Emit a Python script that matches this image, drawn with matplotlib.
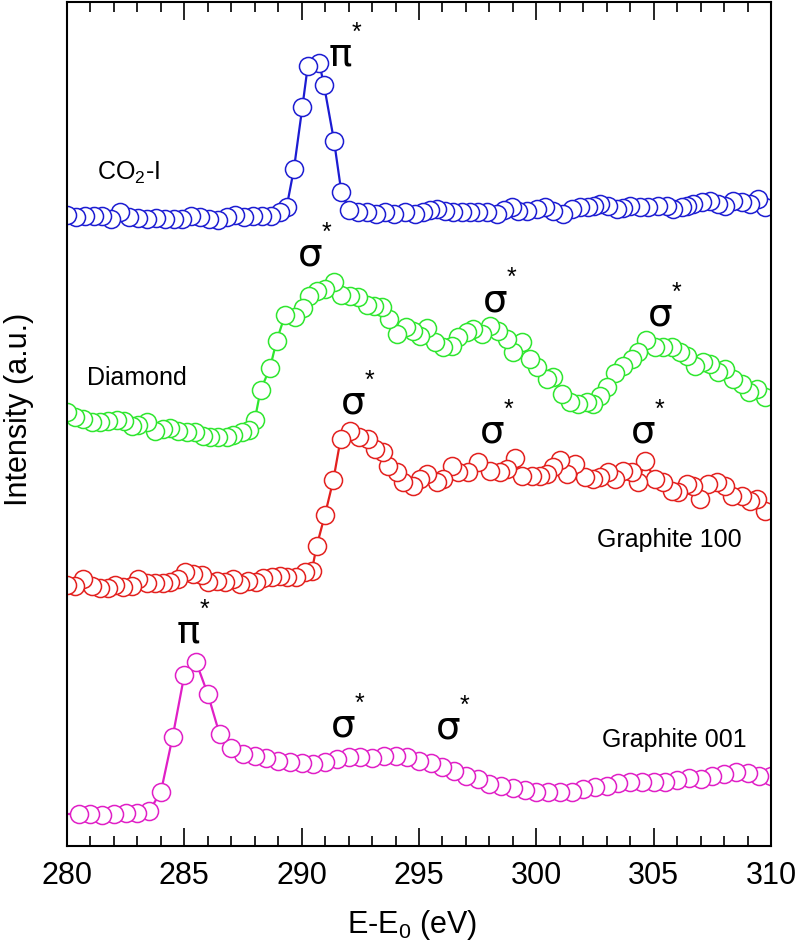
import matplotlib
matplotlib.use("Agg")
from matplotlib import pyplot as plt
from matplotlib.ticker import MultipleLocator

plt.rcParams['font.family'] = ['Liberation Sans', 'DejaVu Sans']
plt.rcParams['mathtext.fontset'] = 'custom'
plt.rcParams['mathtext.rm'] = 'Liberation Sans'
plt.rcParams['mathtext.it'] = 'Liberation Sans:italic'

# spectra, stacked with their offsets already included (intensity in a.u.)
co2_x = [280.00, 280.38, 280.76, 281.13, 281.51, 281.89, 282.27, 282.65, 283.02, 283.40,
         283.78, 284.16, 284.54, 284.91, 285.29, 285.67, 286.05, 286.43, 286.80, 287.18,
         287.56, 287.94, 288.32, 288.69, 289.07, 289.36, 289.67, 290.03, 290.26, 290.75,
         290.95, 291.38, 291.69, 292.03, 292.40, 292.78, 293.16, 293.54, 293.92, 294.40,
         294.83, 295.18, 295.45, 295.75, 296.11, 296.46, 296.82, 297.17, 297.53, 297.88,
         298.31, 298.63, 298.95, 299.23, 299.59, 300.01, 300.37, 300.72, 301.15, 301.50,
         301.86, 302.21, 302.46, 302.71, 303.06, 303.42, 303.70, 303.99, 304.41, 304.77,
         305.19, 305.55, 305.83, 306.19, 306.44, 306.69, 307.04, 307.40, 307.75, 308.04,
         308.39, 308.75, 309.10, 309.45, 309.74]
co2_y = [6.31, 6.29, 6.30, 6.30, 6.30, 6.27, 6.34, 6.29, 6.28, 6.27,
         6.28, 6.27, 6.27, 6.27, 6.30, 6.29, 6.27, 6.26, 6.29, 6.31,
         6.29, 6.30, 6.30, 6.30, 6.34, 6.39, 6.77, 7.39, 7.80, 7.83,
         7.61, 7.05, 6.54, 6.36, 6.34, 6.34, 6.32, 6.34, 6.32, 6.34,
         6.32, 6.34, 6.36, 6.37, 6.35, 6.34, 6.34, 6.34, 6.34, 6.34,
         6.32, 6.36, 6.39, 6.35, 6.35, 6.37, 6.39, 6.35, 6.32, 6.37,
         6.39, 6.39, 6.40, 6.42, 6.40, 6.37, 6.38, 6.40, 6.39, 6.39,
         6.40, 6.40, 6.37, 6.39, 6.40, 6.42, 6.44, 6.45, 6.42, 6.40,
         6.45, 6.44, 6.42, 6.47, 6.39]

diamond_x = [279.99, 280.34, 280.70, 281.05, 281.41, 281.76, 282.12, 282.43, 282.76, 283.04,
             283.40, 283.75, 284.10, 284.39, 284.74, 285.10, 285.45, 285.81, 286.09, 286.45,
             286.80, 287.09, 287.44, 287.75, 288.00, 288.25, 288.65, 288.93, 289.29, 289.71,
             290.07, 290.32, 290.64, 290.99, 291.38, 291.67, 292.06, 292.41, 292.77, 293.08,
             293.41, 293.73, 294.07, 294.44, 294.76, 295.04, 295.33, 295.68, 296.03, 296.39,
             296.67, 297.03, 297.31, 297.67, 298.02, 298.38, 298.73, 299.02, 299.37, 299.73,
             300.01, 300.44, 300.72, 301.08, 301.43, 301.79, 302.14, 302.43, 302.71, 303.02,
             303.35, 303.68, 304.06, 304.34, 304.67, 305.05, 305.41, 305.76, 306.12, 306.43,
             306.76, 307.11, 307.40, 307.75, 308.04, 308.39, 308.75, 309.07, 309.39, 309.74]
diamond_y = [4.34, 4.29, 4.27, 4.24, 4.24, 4.25, 4.26, 4.25, 4.20, 4.21,
             4.24, 4.15, 4.17, 4.18, 4.15, 4.14, 4.14, 4.10, 4.09, 4.09,
             4.09, 4.11, 4.14, 4.16, 4.26, 4.56, 4.78, 5.05, 5.31, 5.29,
             5.38, 5.50, 5.55, 5.57, 5.64, 5.51, 5.50, 5.49, 5.41, 5.40,
             5.39, 5.27, 5.12, 5.19, 5.15, 5.10, 5.18, 5.04, 4.99, 5.00,
             5.09, 5.14, 5.17, 5.12, 5.20, 5.15, 5.07, 4.94, 5.04, 4.87,
             4.79, 4.67, 4.69, 4.52, 4.44, 4.42, 4.44, 4.42, 4.50, 4.59,
             4.73, 4.80, 4.87, 4.94, 5.06, 4.99, 4.99, 4.99, 4.94, 4.90,
             4.80, 4.84, 4.82, 4.74, 4.77, 4.67, 4.62, 4.54, 4.57, 4.49]

g100_x = [279.99, 280.34, 280.70, 281.05, 281.40, 281.76, 282.05, 282.40, 282.76, 283.04,
          283.40, 283.75, 284.10, 284.39, 284.74, 285.03, 285.38, 285.74, 286.02, 286.38,
          286.73, 287.06, 287.37, 287.72, 288.05, 288.36, 288.72, 289.08, 289.36, 289.76,
          290.14, 290.43, 290.64, 290.99, 291.35, 291.66, 292.06, 292.45, 292.84, 293.12,
          293.48, 293.69, 294.05, 294.33, 294.76, 295.04, 295.33, 295.75, 296.03, 296.39,
          296.67, 297.10, 297.53, 298.02, 298.45, 298.73, 299.09, 299.37, 299.80, 300.15,
          300.44, 300.72, 301.00, 301.29, 301.65, 302.07, 302.43, 302.71, 303.06, 303.35,
          303.70, 304.06, 304.34, 304.63, 305.05, 305.41, 305.76, 306.05, 306.40, 306.69,
          306.97, 307.32, 307.68, 308.04, 308.32, 308.75, 309.10, 309.39, 309.74]
g100_y = [2.61, 2.60, 2.67, 2.60, 2.58, 2.58, 2.61, 2.59, 2.60, 2.67,
          2.63, 2.63, 2.63, 2.64, 2.67, 2.74, 2.72, 2.71, 2.64, 2.65,
          2.64, 2.67, 2.62, 2.65, 2.64, 2.68, 2.69, 2.70, 2.69, 2.69,
          2.74, 2.75, 3.00, 3.31, 3.66, 4.07, 4.15, 4.09, 4.07, 3.97,
          3.94, 3.80, 3.74, 3.64, 3.60, 3.67, 3.72, 3.64, 3.67, 3.80,
          3.74, 3.74, 3.84, 3.75, 3.74, 3.77, 3.88, 3.70, 3.70, 3.70,
          3.72, 3.79, 3.86, 3.72, 3.82, 3.69, 3.67, 3.69, 3.74, 3.67,
          3.75, 3.74, 3.64, 3.85, 3.67, 3.64, 3.55, 3.54, 3.62, 3.60,
          3.47, 3.62, 3.64, 3.60, 3.50, 3.50, 3.45, 3.47, 3.35]

g001_x = [279.5, 280.5, 281.0, 281.5, 282.0, 282.5, 283.0, 283.5, 284.0, 284.5, 285.0,
          285.5, 286.0, 286.5, 287.0, 287.5, 288.0, 288.5, 289.0, 289.5, 290.0,
          290.5, 291.0, 291.5, 292.0, 292.5, 293.0, 293.5, 294.0, 294.5, 295.0,
          295.5, 296.0, 296.5, 297.0, 297.5, 298.0, 298.5, 299.0, 299.5, 300.0,
          300.5, 301.0, 301.5, 302.0, 302.5, 303.0, 303.5, 304.0, 304.5, 305.0,
          305.5, 306.0, 306.5, 307.0, 307.5, 308.0, 308.5, 309.0, 309.5, 310.0]
g001_y = [0.32, 0.32, 0.32, 0.31, 0.32, 0.33, 0.33, 0.35, 0.54, 1.09, 1.71,
          1.84, 1.52, 1.12, 0.98, 0.92, 0.90, 0.88, 0.85, 0.84, 0.83,
          0.82, 0.84, 0.87, 0.89, 0.89, 0.88, 0.90, 0.90, 0.89, 0.85,
          0.83, 0.79, 0.75, 0.70, 0.67, 0.62, 0.60, 0.58, 0.56, 0.54,
          0.54, 0.54, 0.54, 0.57, 0.59, 0.60, 0.63, 0.64, 0.64, 0.64,
          0.64, 0.66, 0.68, 0.67, 0.70, 0.72, 0.74, 0.73, 0.70, 0.70]

series = [
    (co2_x, co2_y, '#1c1cd2'),
    (diamond_x, diamond_y, '#2fe62f'),
    (g100_x, g100_y, '#e3201e'),
    (g001_x, g001_y, '#e01fc6'),
]

# sample names: (text, x, y, align)
names = [
    ('CO$_2$-I', 281.27, 6.74, 'left'),
    ('Diamond', 280.84, 4.69, 'left'),
    ('Graphite 100', 308.75, 3.07, 'right'),
    ('Graphite 001', 308.96, 1.07, 'right'),
]

# resonance marks: (symbol, x, y)
peaks = [
    ('π', 291.63, 7.92),
    ('σ', 290.35, 5.92), ('σ', 298.24, 5.47), ('σ', 305.27, 5.32),
    ('σ', 292.19, 4.44), ('σ', 298.11, 4.15), ('σ', 304.54, 4.15),
    ('π', 285.16, 2.15), ('σ', 291.76, 1.21), ('σ', 296.23, 1.19),
]

fig = plt.figure(figsize=(7.96, 9.45), dpi=100)
ax = fig.add_axes([67 / 796, 1 - 847 / 945, 704 / 796, 844 / 945])

for x, y, color in series:
    # reversed so earlier points sit on top, like the original
    ax.plot(x[::-1], y[::-1], '-o', color=color, lw=1.6, ms=13,
            mfc='white', mec=color, mew=1.1)

for text, x, y, ha in names:
    ax.text(x, y, text, fontsize=18, ha=ha, va='center')

for sym, x, y in peaks:
    ax.text(x, y, sym, fontsize=28, family='DejaVu Sans', ha='center', va='center')
    ax.text(x + 0.72, y + 0.22, '*', fontsize=18, ha='center', va='center')

ax.set_xlim(280, 310)
ax.set_ylim(0, 8.44)
ax.xaxis.set_major_locator(MultipleLocator(5))
ax.xaxis.set_minor_locator(MultipleLocator(1))
ax.tick_params(axis='x', which='both', direction='in', top=True, labelsize=22, pad=10)
ax.tick_params(axis='x', which='major', length=13, width=1.2)
ax.tick_params(axis='x', which='minor', length=7, width=1.2)
ax.set_yticks([])
for sp in ax.spines.values():
    sp.set_linewidth(1.5)

ax.set_xlabel('E-E$_0$ (eV)', fontsize=22)
ax.xaxis.set_label_coords(0.49, -0.072)
ax.set_ylabel('Intensity (a.u.)', fontsize=22)
ax.yaxis.set_label_coords(-0.047, 0.518)

fig.savefig('out.png', dpi=100)
